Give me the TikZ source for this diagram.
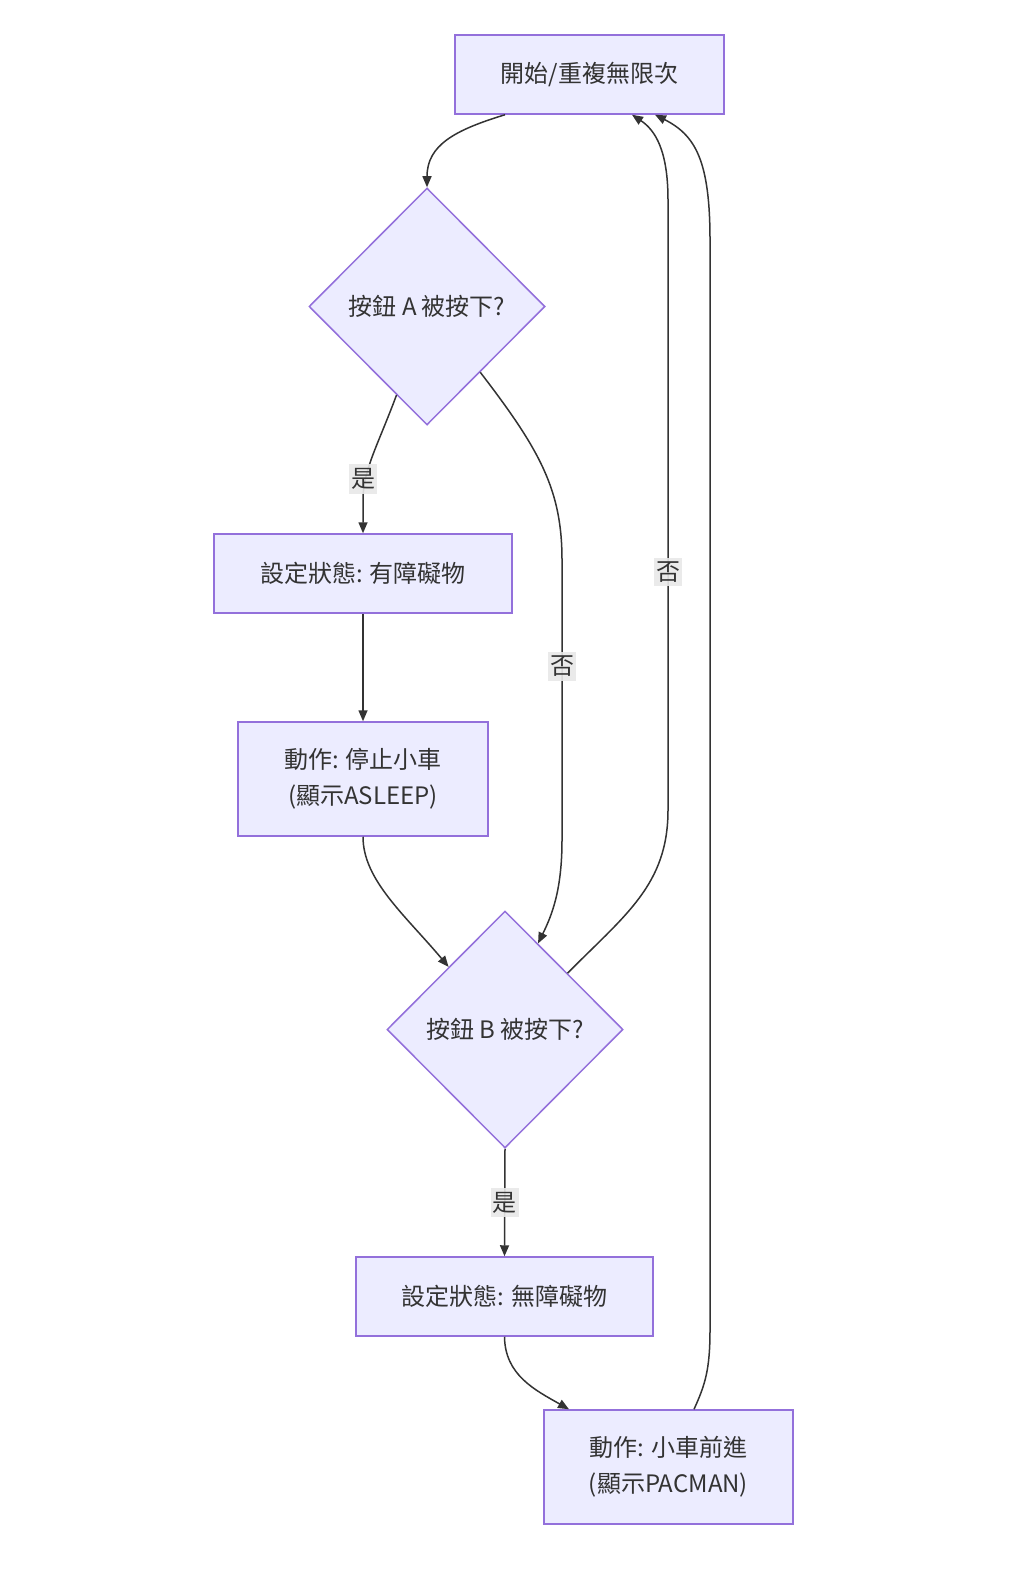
\documentclass[tikz,border=0pt]{standalone}
\usepackage{fontspec}
\setmainfont{Noto Sans CJK TC}
\usetikzlibrary{arrows.meta,shapes.geometric}
\definecolor{boxfill}{HTML}{ECECFF}
\definecolor{boxline}{HTML}{9370DB}
\definecolor{ink}{HTML}{333333}
\definecolor{lblfill}{HTML}{E8E8E8}

\begin{document}
\begin{tikzpicture}[x=1pt, y=-1pt, > = {Triangle[length=11pt,width=9pt]},
    font=\fontsize{24}{36}\selectfont, text=ink,
    procbox/.style = {draw=boxline, fill=boxfill, line width=1.5pt, rectangle, align=center, inner sep=0pt},
    decision/.style = {draw=boxline, fill=boxfill, line width=1.5pt, diamond, aspect=1, inner sep=0pt, minimum width=236pt, minimum height=237pt},
    flow/.style = {draw=ink, line width=1.5pt, ->},
    lbl/.style = {fill=lblfill, fill opacity=0.9, text opacity=1, inner xsep=2pt, inner ysep=4pt}]

    \useasboundingbox (0,0) rectangle (1024,1589);

    % nodes
    \node[procbox, minimum width=269pt, minimum height=79pt] (start) at (589.5,74.5) {開始/重複無限次};
    \node[decision] (askA) at (427,306.5) {按鈕 A 被按下?};
    \node[procbox, minimum width=298pt, minimum height=79pt] (setBlock) at (363,573.5) {設定狀態: 有障礙物};
    \node[procbox, minimum width=250pt, minimum height=114pt] (stopCar) at (363,779) {動作: 停止小車\\(顯示ASLEEP)};
    \node[decision] (askB) at (505,1029.5) {按鈕 B 被按下?};
    \node[procbox, minimum width=297pt, minimum height=79pt] (setFree) at (504.5,1296.5) {設定狀態: 無障礙物};
    \node[procbox, minimum width=249pt, minimum height=114pt] (goCar) at (668.5,1467) {動作: 小車前進\\(顯示PACMAN)};

    % edges
    \draw[flow] ([xshift=-84.5pt]start.south) .. controls (455,130) and (427,145) .. (askA.north);
    \draw[flow] (askA.-109) .. controls (378,445) and (363,470) .. (363,500) -- (setBlock.north);
    \node[lbl] (yesA) at (363,479) {是};
    \draw[flow] (askA.-51.5) .. controls (540,450) and (562,490) .. (562,560)
        -- node[lbl, pos=0.38] (noA) {否} (562,840) .. controls (562,890) and (552,915) .. (askB.69);
    \draw[flow] (setBlock.south) -- (stopCar.north);
    \draw[flow] (stopCar.south) .. controls (363,880) and (405,915) .. (askB.132);
    \draw[flow] (askB.42.6) .. controls (625,915) and (668,885) .. (668,810)
        -- node[lbl, pos=0.39] (noB) {否} (668,200) .. controls (668,150) and (655,130) .. ([xshift=42.5pt]start.south);
    \draw[flow] (askB.south) -- node[lbl] (yesB) {是} (setFree.north);
    \draw[flow] (setFree.south) .. controls (505,1375) and (535,1390) .. ([xshift=-99.5pt]goCar.north);
    \draw[flow] ([xshift=25.5pt]goCar.north) .. controls (705,1385) and (710,1370) .. (710,1330)
        -- (710,240) .. controls (710,160) and (695,135) .. ([xshift=65.5pt]start.south);

\end{tikzpicture}
\end{document}
